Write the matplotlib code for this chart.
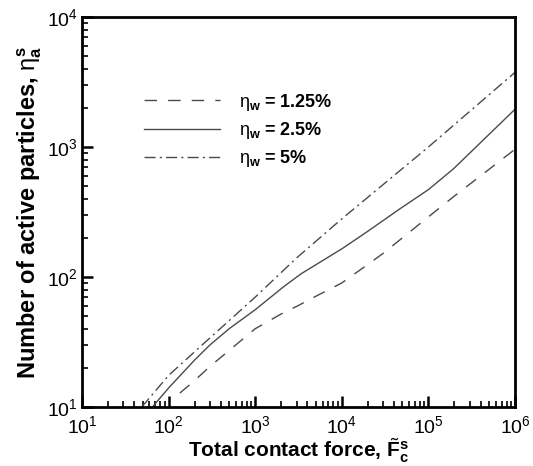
import numpy as np
import matplotlib
matplotlib.use("Agg")
import matplotlib.pyplot as plt
from matplotlib.ticker import LogLocator, NullFormatter

plt.rcParams['font.family'] = ['Liberation Sans', 'DejaVu Sans']
plt.rcParams['mathtext.fontset'] = 'custom'
plt.rcParams['mathtext.rm'] = 'Liberation Sans'
plt.rcParams['mathtext.bf'] = 'Liberation Sans:bold'
plt.rcParams['mathtext.it'] = 'Liberation Sans'
plt.rcParams['mathtext.sf'] = 'Liberation Sans'

# eta_w = 1.25 %
x_125 = [135, 200, 300, 1000, 2000, 3100, 5000, 10000, 20000, 30000, 100000, 200000, 1000000]
y_125 = [12.8, 16, 20.5, 40, 52, 60, 71, 90, 125, 152, 290, 420, 960]
# eta_w = 2.5 %
x_25 = [65, 100, 200, 300, 500, 1000, 2170, 3400, 10200, 20000, 47000, 100000, 195000, 1000000]
y_25 = [10, 14, 23, 30, 40, 56, 85, 106, 166, 225, 335, 470, 680, 1950]
# eta_w = 5 %
x_5 = [49, 100, 300, 1000, 3000, 10000, 100000, 1000000]
y_5 = [10, 17.5, 34, 70, 140, 280, 1000, 3750]

labels = [r'$\eta_\mathbf{w}$ = 1.25%', r'$\eta_\mathbf{w}$ = 2.5%', r'$\eta_\mathbf{w}$ = 5%']

fig = plt.figure(figsize=(5.33, 4.66), dpi=100)
ax = fig.add_axes([82/533, 1-407/466, 433/533, 390/466])

lc = '#4a4a4a'
ax.plot(x_125, y_125, color=lc, lw=1.0, dashes=(9, 8), label=labels[0])
ax.plot(x_25, y_25, color=lc, lw=1.0, linestyle='-', label=labels[1])
ax.plot(x_5, y_5, color=lc, lw=1.0, dashes=(8, 3, 1.5, 3), label=labels[2])

ax.set_xscale('log')
ax.set_yscale('log')
ax.set_xlim(10, 1e6)
ax.set_ylim(10, 1e4)

ax.xaxis.set_major_locator(LogLocator(base=10, numticks=10))
ax.yaxis.set_major_locator(LogLocator(base=10, numticks=10))
ax.xaxis.set_minor_locator(LogLocator(base=10, subs=np.arange(2, 10), numticks=20))
ax.yaxis.set_minor_locator(LogLocator(base=10, subs=np.arange(2, 10), numticks=20))
ax.xaxis.set_minor_formatter(NullFormatter())
ax.yaxis.set_minor_formatter(NullFormatter())

ax.tick_params(which='both', direction='in', top=False, right=False, labelsize=14, width=1.2)
ax.tick_params(which='major', length=8, width=1.8)
ax.tick_params(which='minor', length=4)
ax.tick_params(axis='x', pad=6)
ax.tick_params(axis='y', pad=3)

for s in ax.spines.values():
    s.set_linewidth(2.0)

ax.set_xlabel(r'Total contact force, $\tilde{\mathbf{F}}^\mathbf{s}_\mathbf{c}$', fontsize=15, fontweight='bold', labelpad=-0.5)
ax.set_ylabel(r'Number of active particles, $\eta^\mathbf{s}_\mathbf{a}$', fontsize=17, fontweight='bold', labelpad=2)

leg = ax.legend(loc='upper left', bbox_to_anchor=(0.105, 0.85), frameon=False,
                handlelength=4.2, handletextpad=1.1, labelspacing=0.4,
                prop={'weight': 'bold', 'size': 13})

fig.savefig('out.png', dpi=100)
